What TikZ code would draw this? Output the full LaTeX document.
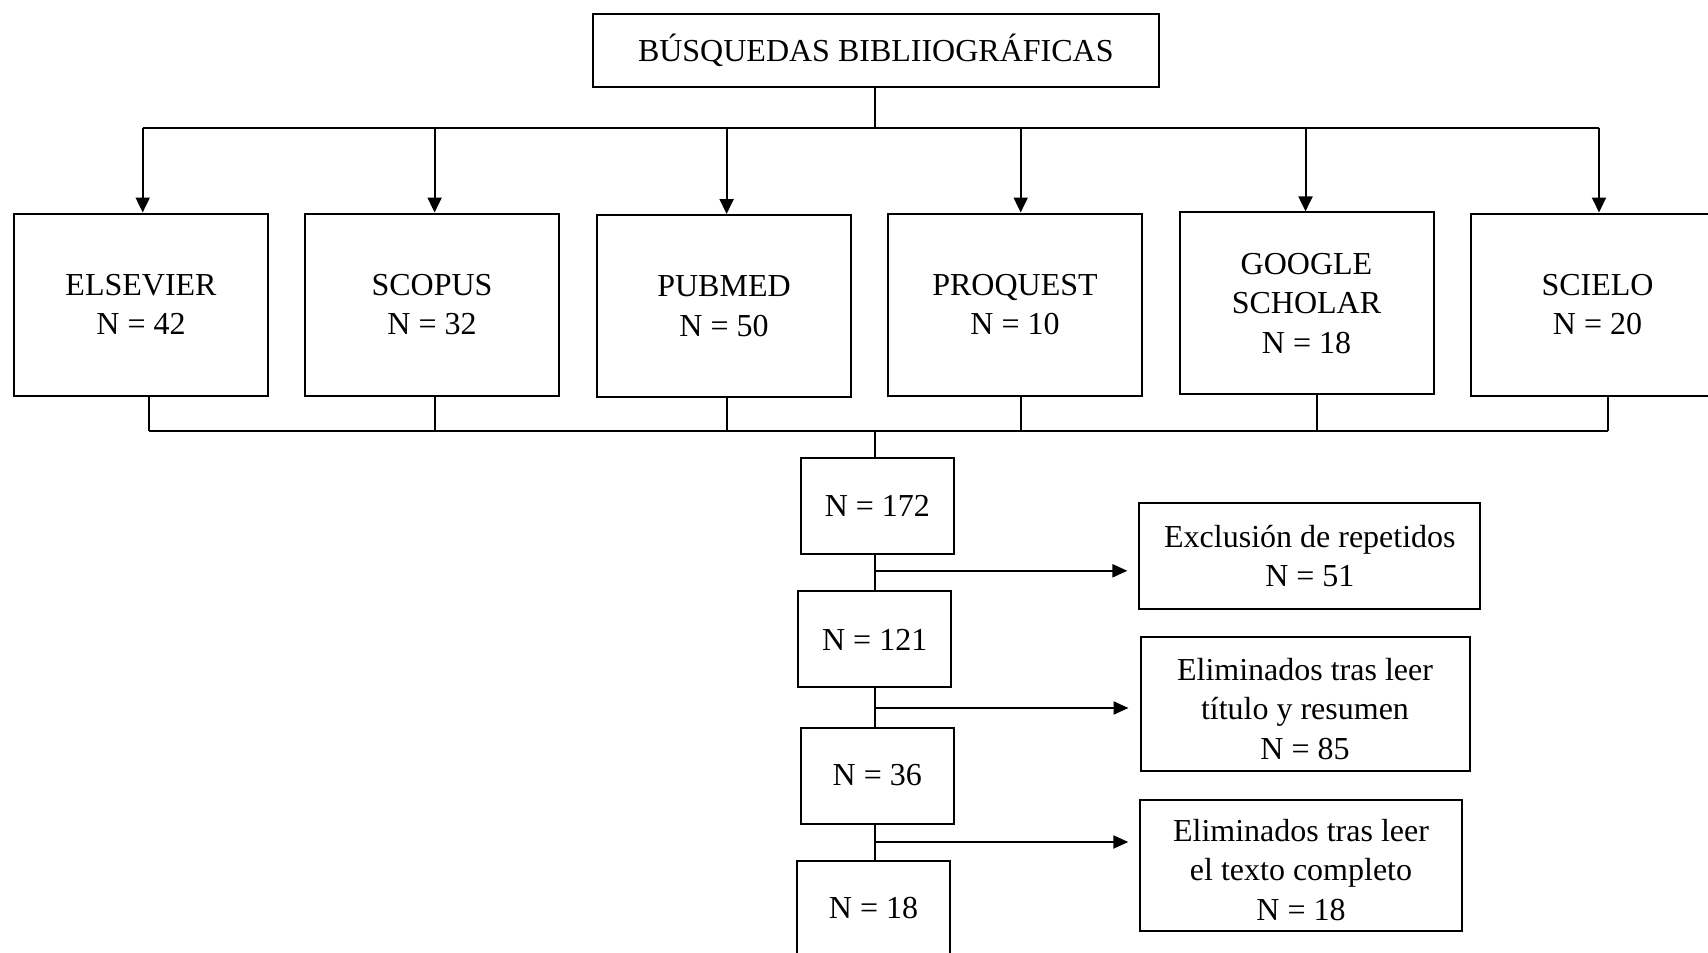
\documentclass[tikz,border=0pt]{standalone}
\usepackage{fontspec}
\setmainfont{Liberation Serif}
\usetikzlibrary{arrows.meta}
\begin{document}
\begin{tikzpicture}[x=1pt,y=-1pt,
  box/.style={draw=black,line width=2pt,rectangle,inner sep=0pt,align=center,
    font=\fontsize{32}{39.5}\selectfont},
  txt/.style={inner sep=0pt,align=center,font=\fontsize{32}{39.5}\selectfont},
  conn/.style={line width=2pt},
  arr/.style={line width=2pt,-{Triangle[length=15pt,width=14pt]}},
  harr/.style={line width=2pt,-{Triangle[length=15pt,width=13pt]}}]
\useasboundingbox (0,0) rectangle (1708,953);
\fill[white] (0,0) rectangle (1708,953);
% top
\node[box,minimum width=566pt,minimum height=73pt] (top) at (875.8,50.5) {BÚSQUEDAS BIBLIIOGRÁFICAS};
% sources
\node[box,minimum width=254pt,minimum height=182pt] (els) at (141,304.5) {ELSEVIER\\N = 42};
\node[box,minimum width=254pt,minimum height=182pt] (sco) at (432,304.5) {SCOPUS\\N = 32};
\node[box,minimum width=254pt,minimum height=182pt] (pub) at (724,306) {PUBMED\\N = 50};
\node[box,minimum width=254pt,minimum height=182pt] (pro) at (1015,304.5) {PROQUEST\\N = 10};
\node[box,minimum width=254pt,minimum height=182pt] (goo) at (1306.5,303.4) {GOOGLE\\SCHOLAR\\N = 18};
\node[box,minimum width=254pt,minimum height=182pt] (sci) at (1597.5,304.5) {SCIELO\\N = 20};
% top bus
\coordinate (tb) at (874.7,127.5);
\draw[conn] (top.south -| tb) -- (tb);
\draw[conn] ([xshift=1.7pt]els.north |- tb) -- ([xshift=1.5pt]sci.north |- tb);
\draw[arr] ([xshift=1.7pt]els.north |- tb) -- ([xshift=1.7pt]els.north);
\draw[arr] ([xshift=2.6pt]sco.north |- tb) -- ([xshift=2.6pt]sco.north);
\draw[arr] ([xshift=2.6pt]pub.north |- tb) -- ([xshift=2.6pt]pub.north);
\draw[arr] ([xshift=5.7pt]pro.north |- tb) -- ([xshift=5.7pt]pro.north);
\draw[arr] ([xshift=-1pt]goo.north |- tb) -- ([xshift=-1pt]goo.north);
\draw[arr] ([xshift=1.5pt]sci.north |- tb) -- ([xshift=1.5pt]sci.north);
% bottom bus
\coordinate (bb) at (874.7,431);
\draw[conn] ([xshift=8pt]els.south |- bb) -- ([xshift=10.5pt]sci.south |- bb);
\draw[conn] ([xshift=8pt]els.south) -- ([xshift=8pt]els.south |- bb);
\draw[conn] ([xshift=2.6pt]sco.south) -- ([xshift=2.6pt]sco.south |- bb);
\draw[conn] ([xshift=2.6pt]pub.south) -- ([xshift=2.6pt]pub.south |- bb);
\draw[conn] ([xshift=5.7pt]pro.south) -- ([xshift=5.7pt]pro.south |- bb);
\draw[conn] ([xshift=10.5pt]goo.south) -- ([xshift=10.5pt]goo.south |- bb);
\draw[conn] ([xshift=10.5pt]sci.south) -- ([xshift=10.5pt]sci.south |- bb);
% flow boxes
\node[box,minimum width=153.6pt,minimum height=96pt] (n172) at (877.4,505.5) {N = 172};
\node[box,minimum width=152.5pt,minimum height=96pt] (n121) at (874.7,639.4) {N = 121};
\node[box,minimum width=153pt,minimum height=96pt] (n36) at (877.3,775.5) {N = 36};
\node[box,minimum width=153pt,minimum height=96pt] (n18) at (873.5,908.5) {N = 18};
% right boxes
\node[box,minimum width=341pt,minimum height=105.7pt] (exc) at (1309.9,556) {Exclusión de repetidos\\N = 51};
\node[box,minimum width=329pt,minimum height=134pt] (el1) at (1305,704.2) {};
\node[txt] (el1t) at ([yshift=-4.4pt]el1.center) {Eliminados tras leer\\título y resumen\\N = 85};
\node[box,minimum width=321.3pt,minimum height=131.8pt] (el2) at (1301,865.4) {};
\node[txt] (el2t) at ([yshift=-4.4pt]el2.center) {Eliminados tras leer\\el texto completo\\N = 18};
% spine
\draw[conn] (bb) -- (n172.north -| bb);
\draw[conn] (n172.south -| bb) -- (n121.north -| bb);
\draw[conn] (n121.south -| bb) -- (n36.north -| bb);
\draw[conn] (n36.south -| bb) -- (n18.north -| bb);
\coordinate (a1) at (874.7,570.8);
\coordinate (a2) at (874.7,708);
\coordinate (a3) at (874.7,842);
\draw[harr,shorten >=11pt] (a1) -- (a1 -| exc.west);
\draw[harr,shorten >=11pt] (a2) -- (a2 -| el1.west);
\draw[harr,shorten >=11pt] (a3) -- (a3 -| el2.west);
\end{tikzpicture}
\end{document}
